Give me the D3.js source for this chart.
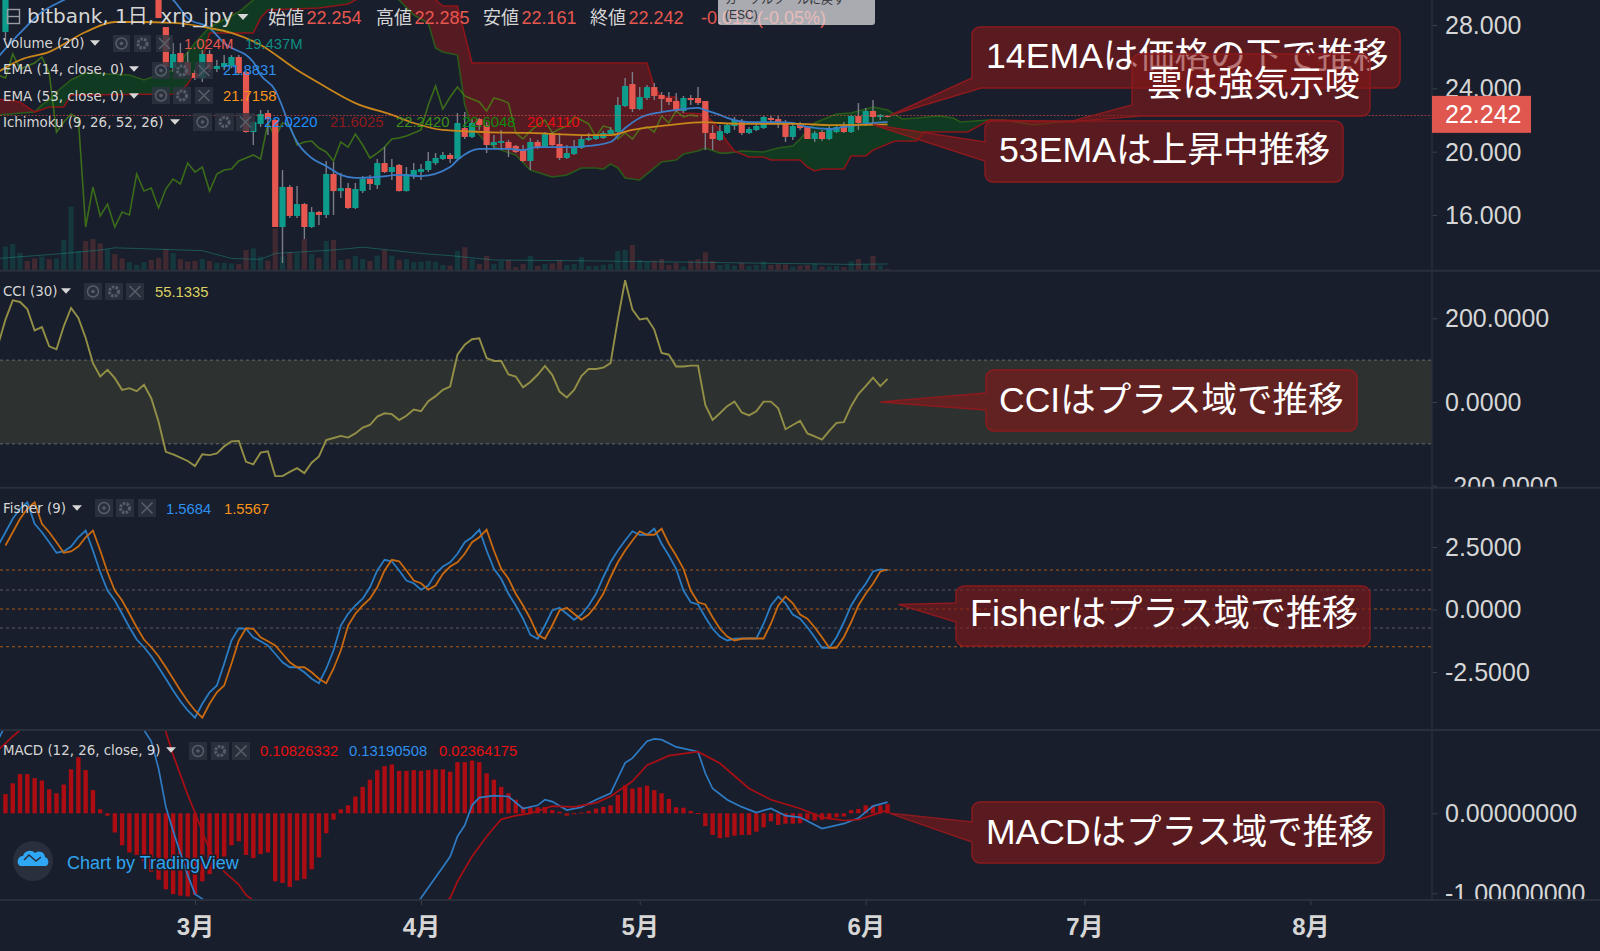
<!DOCTYPE html>
<html><head><meta charset="utf-8">
<script src="https://cdn.jsdelivr.net/npm/d3@7"></script>
<style>
html,body{margin:0;padding:0;background:#181e2b;overflow:hidden}
svg{display:block}
text{font-family:"Liberation Sans","Noto Sans CJK JP",sans-serif}
.lg{font-family:"DejaVu Sans","Noto Sans CJK JP",sans-serif}
</style></head><body>
<script>
// ---- day index: 0 = 1 March ----
const monthTicks=[0,31,61,92,122,153];
const monthLabels=["3月","4月","5月","6月","7月","8月"];
const priceTicks=[28,24,20,16];
const cciTicks=[200,0,-200];
const fisherTicks=[2.5,0,-2.5];
const macdTicks=[0,-1];

const candleDays=[-26,-5].concat(d3.range(-4,96));
const opens=[27.56,31.0,
27.87,25.28,26.23,25.66,24.97,24.65,26.17,25.22,25.35,25.41,
25.98,25.03,21.24,21.75,22.44,
22.0,15.24,17.77,15.94,16.69,15.24,16.19,16.0,18.59,17.51,
17.7,16.44,17.51,18.27,17.89,19.28,18.71,19.16,17.51,18.46,
18.71,18.84,19.28,19.54,19.79,19.54,21.49,20.93,22.06,21.68,
20.42,20.55,20.61,20.36,20.1,19.41,20.61,20.29,21.11,20.48,
19.6,19.85,20.23,20.74,20.8,20.86,21.11,21.24,22.88,24.27,
22.69,23.39,24.08,23.58,23.39,23.2,22.57,23.39,23.39,23.2,
21.18,20.74,21.18,21.62,21.94,21.18,21.37,21.49,22.13,22.06,
21.87,20.93,21.68,21.56,20.8,21.24,20.8,21.24,21.68,21.24,
22.25,21.81,22.57,22.19,22.254];
const highs=[31.5,31.5,
27.87,26.86,26.86,26.3,25.16,26.42,26.42,25.79,26.1,26.1,
26.1,25.1,21.9,22.63,22.63,
22.1,18.84,17.9,17.83,16.76,16.5,16.25,19.41,19.35,18.65,
18.02,18.02,18.46,18.53,19.54,20.29,19.54,19.22,19.03,19.28,
19.22,19.98,19.91,19.98,19.91,22.44,22.5,22.06,22.12,21.87,
21.05,21.37,20.74,20.42,20.42,20.86,20.74,21.24,21.24,21.18,
20.42,20.74,21.05,21.18,21.11,21.31,21.56,23.45,24.65,25.03,
24.08,24.21,24.34,23.77,23.77,23.71,23.52,23.58,24.08,23.2,
21.68,21.68,21.81,22.19,22.06,21.56,21.75,22.25,22.25,22.25,
22.0,21.87,21.87,21.62,21.3,21.37,21.62,21.68,21.87,22.31,
23.07,22.76,23.26,22.38,22.285];
const lows=[27.05,28.44,
25.35,25.03,25.47,24.84,24.53,24.4,25.03,25.03,25.16,25.28,
24.84,21.2,20.42,21.56,21.05,
15.24,12.97,15.81,15.81,14.48,15.18,15.37,15.81,16.0,17.07,
16.38,16.38,17.39,17.58,17.64,18.65,18.21,17.48,17.48,18.27,
18.21,18.71,19.16,19.47,19.28,19.5,20.8,20.86,21.37,19.91,
20.17,20.1,19.66,19.91,19.35,18.84,20.17,20.23,20.36,19.47,
19.54,19.79,20.17,20.67,20.74,20.8,21.05,21.18,22.82,22.5,
22.63,23.26,23.26,22.5,22.95,22.5,22.44,22.95,22.95,20.1,
20.1,20.67,21.11,21.37,21.05,21.11,21.3,21.43,21.81,21.49,
20.61,20.74,21.37,20.8,20.61,20.67,20.74,21.18,21.18,21.18,
21.37,21.62,21.81,22.0,22.161];
const closes=[31.0,28.44,
25.35,26.17,25.6,24.84,24.65,26.17,25.22,25.41,25.6,25.98,
24.97,21.24,21.87,22.38,22.06,
15.24,17.77,15.94,16.69,15.24,16.19,16.0,18.59,17.51,17.7,
16.44,17.64,18.27,17.96,19.28,18.71,19.03,17.51,18.59,18.84,
18.9,19.41,19.6,19.79,19.54,21.81,20.93,21.81,21.68,20.42,
20.61,20.67,20.23,19.98,19.41,20.61,20.29,21.11,20.42,19.6,
19.91,20.29,20.8,20.86,20.99,21.18,21.37,22.95,24.15,22.69,
23.45,24.08,23.52,23.33,23.14,22.57,23.39,23.26,23.07,21.18,
20.8,21.3,21.68,22.0,21.18,21.43,21.62,22.19,22.0,21.75,
20.93,21.62,21.49,20.8,21.18,20.8,21.43,21.56,21.24,22.25,
21.81,22.57,22.19,22.31,22.242];

const volumeDays=d3.range(-26,96);
const volumes=[75,83,55,29,37,43,35,37,96,203,61,93,99,85,66,51,37,25,16,25,32,39,67,55,35,27,
29,35,29,23,23,21,19,64,69,43,30,133,43,57,53,99,51,39,93,96,32,35,45,35,29,46,64,46,32,35,25,26,29,26,16,
14,61,73,35,19,45,19,29,32,9,19,45,13,19,21,32,16,19,41,13,13,17,19,61,64,80,32,27,30,35,16,23,11,30,35,57,
29,16,19,14,23,13,16,27,16,19,18,11,14,16,21,11,11,13,9,28,35,16,45,14,3];
const volumeUpBefore=[1,1,1,0,0,1,0,1,1,1,1,0,0,0,1,0,0,1,1,1,0,0]; // days -26 … -5
const volumeMaDays=[-27,-18,-13,-11,1,5,9,11,19,23,31,35,41,55,90,95];
const volumeMa=[37,53,64,71,62,37,34,53,64,73,53,46,32,29,18,19.4];

const ema14Days=[-27,-24,-21,-18,-12,-6,-3,-1,2,4,8,9,11,12,13,14,16,18,20,22,25,28,31,35,36,39,40,43,45,47,50,52,54,57,59,61,64,67,69,70,72,73,76,78,80,82,84,87,89,92,95];
const ema14=[25.98,27.5,28.82,29.58,30.84,30.2,29.58,28.44,27.81,26.86,25.66,24.84,23.89,22.82,21.56,20.61,19.6,19.09,18.53,18.34,18.4,18.53,18.46,19.03,19.47,20.17,20.17,20.17,20.1,20.29,20.29,20.29,20.36,20.61,21.49,22.13,22.5,22.69,22.76,22.63,22.32,22.13,21.87,21.87,21.87,21.81,21.56,21.43,21.56,21.75,21.88];
const ema53Days=[-27,-24,-20,-15,-11,-8,-3,2,5,9,14,17,22,27,30,34,40,46,53,57,60,65,70,72,76,83,87,95];
const ema53=[25.03,25.79,26.3,27.56,28.19,28.19,28.13,27.81,27.5,26.74,25.16,24.34,23.07,22.32,21.81,21.37,21.24,21.18,21.05,21.05,21.37,21.68,21.87,21.81,21.75,21.75,21.68,21.72];

const spanADays=[-27,-22,-21,-20,-19,-17,-15,-9,-7,-3,0,2,6,8,14,23,28,30,32,33,34,36,37,38,40,42,44,46,49,51,53,55,56,57,58,59,61,62,64,66,67,69,70,72,73,75,78,80,82,83,85,88,90,93,95,97,99,102,104,105,109,111,115,120,121];
const spanA=[22.32,22.5,22.95,23.26,23.77,24.53,24.97,24.84,24.53,25.16,26.86,27.87,28.82,29.58,31.47,31.16,29.58,28.63,28.13,26.55,26.3,26.1,22.95,21.56,20.55,20.1,19.79,18.84,18.4,18.53,18.97,18.97,18.9,19.22,18.97,18.34,18.21,18.59,19.35,19.47,19.85,20.04,20.23,19.91,19.91,20.04,19.98,20.23,20.36,20.8,21.81,22.38,22.44,22.82,22.63,22.06,22.13,22.25,22.13,21.87,22.0,22.0,21.68,21.94,21.87];
const spanBDays=[-27,-24,-22,-20,-18,-17,-3,-2,-1,1,2,8,9,10,17,21,22,25,31,33,34,36,38,62,63,64,66,67,70,72,73,74,76,78,79,83,84,85,86,89,90,92,93,96,99,100,106,109,111,121];
const spanB=[23.33,23.14,22.5,22.82,22.82,23.58,23.64,23.77,24.27,25.79,27.5,27.5,28.44,28.95,29.07,29.33,29.58,30.2,30.08,29.58,29.2,29.2,25.6,25.6,24.08,23.45,23.45,22.44,22.38,21.37,20.61,20.04,19.66,19.66,19.47,19.47,19.03,18.78,18.9,18.9,19.73,19.73,20.1,20.67,20.67,21.24,21.24,22.0,21.98,21.87];

const cciStart=-27;
const cci=[137,197,243,239,222,171,179,133,126,181,225,201,153,93,61,77,57,29,33,26,41,9,-47,-119,-125,-133,-141,-153,
-125,-127,-123,-106,-94,-93,-143,-149,-121,-118,-177,-177,-167,-158,-170,-145,-130,-91,-86,-81,-85,-75,-61,-55,-35,-27,-29,-43,-33,-18,-22,2,14,29,37,
113,137,150,152,105,98,98,66,61,35,48,65,86,65,25,11,29,62,79,79,82,93,197,291,221,197,200,173,117,113,85,85,87,87,
-7,-43,-27,-10,1,-25,-32,-22,1,1,-15,-65,-55,-45,-75,-82,-90,-69,-50,-48,-10,19,38,58,38,55.13];
const cciBand=[100,-100];

const fisherStart=-27;
const fisher=[2.56,3.09,3.63,4.03,4.29,3.43,3.09,2.69,2.27,2.32,2.52,2.89,3.16,2.36,1.49,.76,.36,-.17,-.71,-1.2,-1.51,-1.87,-2.31,-2.77,-3.24,-3.67,-4.04,-4.33,
-3.77,-3.31,-3.04,-2.17,-1.24,-.75,-.77,-1.11,-1.27,-1.44,-1.77,-2.11,-2.31,-2.31,-2.51,-2.77,-2.95,-2.37,-1.64,-.64,-.17,.16,.43,.89,1.56,1.99,1.93,1.56,1.16,1.05,.79,.96,1.43,1.72,1.89,
2.23,2.69,2.89,3.19,2.36,1.63,1.23,.63,.16,-.37,-1.01,-1.17,-.64,-.04,.07,-.17,-.41,-.2,.16,.63,1.29,1.89,2.36,2.76,3.13,2.99,2.99,3.23,2.63,2.16,1.63,.76,.29,.2,
-.31,-.77,-1.08,-1.24,-1.17,-1.16,-1.16,-1.16,-.57,.16,.52,.25,-.2,-.37,-.71,-1.11,-1.53,-1.53,-1.11,-.51,.16,.63,1.03,1.52,1.6,1.57];
const fisherLevels=[1.58,.78,.02,-.74,-1.49];
const fisherLevelOrange=[1.58,.02,-1.49];

const histStart=-26;
const macdHist=[.24,.375,.49,.49,.44,.41,.30,.25,.36,.55,.70,.54,.29,.05,-.03,-.24,-.40,-.49,-.52,-.60,-.73,-.83,-.95,-1.01,-1.03,-1.04,
-1.02,-.85,-.76,-.65,-.54,-.40,-.35,-.52,-.56,-.51,-.49,-.85,-.87,-.92,-.84,-.82,-.70,-.55,-.25,-.08,.05,.10,.21,.33,.42,.54,.59,.61,.53,.53,.54,.53,.54,.55,.55,.52,
.64,.64,.66,.64,.50,.42,.33,.25,.17,.08,.075,.075,.08,.04,.02,-.03,-.01,.01,.03,.06,.08,.10,.23,.35,.31,.325,.345,.29,.25,.18,.075,.07,.03,.004,
-.16,-.27,-.31,-.30,-.28,-.27,-.27,-.23,-.175,-.10,-.145,-.13,-.13,-.125,-.08,-.09,-.08,-.075,-.05,-.04,.04,.055,.10,.10,.10,.115];
const macdDays=[-27,-26,-20,-14,-8,-7,-6,-5,-4,-3,-2,-1,0,1,5,15,25,31,34,35,36,37,38,39,41,43,45,47,48,49,51,53,55,57,59,60,62,63,64,66,69,70,71,73,75,77,79,81,83,86,89,91,93,95];
const macdLine=[.92,1.1,1.5,1.9,1.2,1.04,.9,.56,.08,-.22,-.5,-.77,-1.01,-1.07,-1.5,-2.4,-1.8,-1.06,-.67,-.54,-.29,-.15,.10,.196,.22,.21,.06,.10,.17,.146,.04,.075,.17,.25,.63,.69,.90,.93,.92,.83,.77,.50,.31,.17,.08,.01,.06,-.03,-.05,-.19,-.13,-.06,.09,.14];
const signalDays=[-27,-26,-25,-24,-16,-8,-5,-4,-3,-2,-1,0,1,2,3,4,5,6,7,8,15,25,35,36,38,40,42,44,46,49,52,55,57,60,62,65,69,72,76,79,83,86,89,91,93,95];
const signalLine=[.79,.875,.96,1.04,1.6,1.35,1.2,1.02,.73,.48,.23,.01,-.23,-.46,-.6,-.73,-.81,-.89,-1.02,-1.09,-1.7,-1.6,-1.06,-.85,-.54,-.29,-.075,-.03,0,.09,.08,.13,.21,.40,.60,.72,.77,.625,.31,.17,.06,-.05,-.09,-.08,-.02,.04];

const lastPrice=22.242;
const W=1600,H=951,AX=1432,SEP=[270.7,487.7,730,900];
const bg="#181e2b",sepC="#2a2f3c",txt="#d6d6d6";
const up="#0d9c8c",dn="#e6574f";

const x=d3.scaleLinear().domain([-26.749,169.68]).range([0,AX]);
const yP=d3.scaleLinear().domain([29.58,12.48]).range([0,270.7]);
const yV=d3.scaleLinear().domain([0,320]).range([270,170]);
const yC=d3.scaleLinear().domain([200,-200]).range([318.3,485.7]);
const yF=d3.scaleLinear().domain([2.5,-2.5]).range([547,672]);
const yM=d3.scaleLinear().domain([0,-1]).range([813.3,893.3]);

const svg=d3.select("body").append("svg").attr("width",W).attr("height",H);
svg.append("rect").attr("width",W).attr("height",H).attr("fill",bg);
const defs=svg.append("defs");
function clip(id,y0,y1,w){defs.append("clipPath").attr("id",id).append("rect").attr("x",0).attr("y",y0).attr("width",w).attr("height",y1-y0);}
clip("cP",0,SEP[0],AX);clip("cC",SEP[0],SEP[1],AX);clip("cF",SEP[1],SEP[2],AX);clip("cM",SEP[2],SEP[3],AX);
clip("aC",SEP[0],SEP[1],W);clip("aM",SEP[2],SEP[3],W);clip("aT",0,SEP[0],W);clip("aF",SEP[1],SEP[2],W);

const lineOf=(xs,ys,yScale,curve)=>{const l=d3.line().x((_,i)=>x(xs[i])).y(d=>yScale(d));if(curve)l.curve(curve);return l(ys);};

// ---------- price pane ----------
const P=svg.append("g").attr("clip-path","url(#cP)");
// volume
const upByDay=new Map(candleDays.map((d,i)=>[d,closes[i]>=opens[i]]));
P.append("g").selectAll("rect").data(volumes).join("rect")
 .attr("x",(_,i)=>x(volumeDays[i])-2.6).attr("width",5.2)
 .attr("y",d=>yV(d)).attr("height",d=>yV(0)-yV(d))
 .attr("fill",(_,i)=>{const d=volumeDays[i];const u=d<-4?volumeUpBefore[i]:upByDay.get(d);return u?"rgba(10,160,140,.2)":"rgba(232,86,79,.2)";});
P.append("path").attr("d",lineOf(volumeMaDays,volumeMa,yV)).attr("fill","none").attr("stroke","rgba(30,140,130,.5)").attr("stroke-width",1);

// cloud: polygon between the spans, clipped to the region under each span
const aLine=lineOf(spanADays,spanA,yP), bLine=lineOf(spanBDays,spanB,yP);
const bRev=[...spanBDays.keys()].reverse();
const bBack=d3.line().x(i=>x(spanBDays[i])).y(i=>yP(spanB[i]))(bRev);
const between=aLine+"L"+bBack.slice(1)+"Z";
const below=(xs,l)=>l+`L${x(xs[xs.length-1])},${H}L${x(xs[0])},${H}Z`;
defs.append("clipPath").attr("id","underA").append("path").attr("d",below(spanADays,aLine));
defs.append("clipPath").attr("id","underB").append("path").attr("d",below(spanBDays,bLine));
P.append("g").attr("clip-path","url(#underA)").append("path").attr("d",between).attr("fill","#103a22");
P.append("g").attr("clip-path","url(#underB)").append("path").attr("d",between).attr("fill","#561a22");
P.append("path").attr("d",aLine).attr("fill","none").attr("stroke","#2a5a1a").attr("stroke-width",1.6);
P.append("path").attr("d",bLine).attr("fill","none").attr("stroke","#8e1519").attr("stroke-width",1.6);

// lagging line: closes moved 26 days back
const lagDays=candleDays.slice(1).map(d=>d-26), lagVals=closes.slice(1);
P.append("path").attr("d",lineOf(lagDays,lagVals,yP)).attr("fill","none").attr("stroke","#4a8a14").attr("stroke-opacity",.72).attr("stroke-width",1.6);

// candles
const C=P.append("g");
C.selectAll("line").data(candleDays).join("line")
 .attr("x1",d=>x(d)).attr("x2",d=>x(d))
 .attr("y1",(_,i)=>yP(highs[i])).attr("y2",(_,i)=>yP(lows[i]))
 .attr("stroke","#7b7e88").attr("stroke-width",1.4);
C.selectAll("rect").data(candleDays).join("rect")
 .attr("x",d=>x(d)-3.1).attr("width",6.2)
 .attr("y",(_,i)=>yP(Math.max(opens[i],closes[i])))
 .attr("height",(_,i)=>Math.max(1,Math.abs(yP(opens[i])-yP(closes[i]))))
 .attr("fill",(_,i)=>closes[i]>=opens[i]?up:dn);
// EMAs
P.append("path").attr("d",lineOf(ema14Days,ema14,yP,d3.curveMonotoneX)).attr("fill","none").attr("stroke","#3a7cc8").attr("stroke-width",1.8);
P.append("path").attr("d",lineOf(ema53Days,ema53,yP,d3.curveMonotoneX)).attr("fill","none").attr("stroke","#c9861b").attr("stroke-width",1.8);
// last price line
P.append("line").attr("x1",0).attr("x2",AX).attr("y1",yP(lastPrice)-.7).attr("y2",yP(lastPrice)-.7)
 .attr("stroke","rgba(230,87,79,.6)").attr("stroke-dasharray","2 1.5");

// ---------- CCI ----------
const CC=svg.append("g").attr("clip-path","url(#cC)");
CC.append("rect").attr("x",0).attr("width",AX).attr("y",yC(cciBand[0])).attr("height",yC(cciBand[1])-yC(cciBand[0])).attr("fill","#2d3230");
cciBand.forEach(v=>CC.append("line").attr("x1",0).attr("x2",AX).attr("y1",yC(v)).attr("y2",yC(v)).attr("stroke","#666a6c").attr("stroke-dasharray","3 3"));
CC.append("path").attr("d",lineOf(cci.map((_,i)=>cciStart+i),cci,yC)).attr("fill","none").attr("stroke","#938f47").attr("stroke-width",1.9);

// ---------- Fisher ----------
const FF=svg.append("g").attr("clip-path","url(#cF)");
fisherLevels.forEach(v=>FF.append("line").attr("x1",0).attr("x2",AX).attr("y1",yF(v)).attr("y2",yF(v))
 .attr("stroke",fisherLevelOrange.includes(v)?"#a8591a":"#565a62").attr("stroke-dasharray","3 3").attr("stroke-width",1.1));
const fDays=fisher.map((_,i)=>fisherStart+i);
FF.append("path").attr("d",lineOf(fDays,fisher,yF)).attr("fill","none").attr("stroke","#2a7cc4").attr("stroke-width",1.8);
FF.append("path").attr("d",lineOf(fDays.slice(1),fisher.slice(0,-1),yF)).attr("fill","none").attr("stroke","#c96a10").attr("stroke-width",1.8);

// ---------- MACD ----------
const MM=svg.append("g").attr("clip-path","url(#cM)");
MM.selectAll("rect").data(macdHist).join("rect")
 .attr("x",(_,i)=>x(histStart+i)-2.2).attr("width",4.4)
 .attr("y",d=>Math.min(yM(d),yM(0))).attr("height",d=>Math.max(1,Math.abs(yM(d)-yM(0))))
 .attr("fill","#ad0d12");
MM.append("path").attr("d",lineOf(macdDays,macdLine,yM)).attr("fill","none").attr("stroke","#2e7bc4").attr("stroke-width",1.7);
MM.append("path").attr("d",lineOf(signalDays,signalLine,yM)).attr("fill","none").attr("stroke","#a90f14").attr("stroke-width",1.7);

// ---------- axes ----------
function rightAxis(scale,vals,fmt,clipId,dy){
  const g=svg.append("g").attr("clip-path",`url(#${clipId})`).append("g").attr("transform",`translate(${AX},0)`)
   .call(d3.axisRight(scale).tickValues(vals).tickFormat(fmt).tickSize(5).tickPadding(8));
  g.select(".domain").remove();
  g.selectAll("line").attr("stroke","#3a404d");
  g.selectAll("text").attr("fill",txt).attr("font-size",25).attr("font-family",'"Liberation Sans",sans-serif').attr("y",dy||0);
}
rightAxis(yP,priceTicks,d3.format(".3f"),"aT",0.5);
rightAxis(yC,cciTicks,d=>d3.format(".4f")(d).replace("−","-"),"aC",0.5);
rightAxis(yF,fisherTicks,d=>d3.format(".4f")(d).replace("−","-"),"aF",0);
rightAxis(yM,macdTicks,d=>d3.format(".8f")(d).replace("−","-"),"aM",0.5);

const tA=svg.append("g").attr("transform",`translate(0,${SEP[3]})`)
 .call(d3.axisBottom(x).tickValues(monthTicks).tickFormat((_,i)=>monthLabels[i]).tickSize(5).tickPadding(13));
tA.select(".domain").remove();
tA.selectAll("line").attr("stroke","#3a404d");
tA.selectAll("text").attr("fill",txt).attr("font-size",24).attr("font-weight",700)
 .attr("font-family",'"Liberation Sans","Noto Sans CJK JP",sans-serif');

// separators
SEP.forEach(y=>svg.append("line").attr("x1",0).attr("x2",W).attr("y1",y).attr("y2",y).attr("stroke",sepC).attr("stroke-width",2));
svg.append("line").attr("x1",AX).attr("x2",AX).attr("y1",0).attr("y2",SEP[3]).attr("stroke",sepC).attr("stroke-width",1.5);

// last price label
const yl=yP(lastPrice)-0.8;
svg.append("rect").attr("x",AX).attr("y",yl-19.5).attr("width",99).attr("height",37).attr("fill","#df574e");
svg.append("text").attr("x",AX+13).attr("y",yl+7.5).attr("fill","#fff").attr("font-size",25).text("22.242");

// ---------- legends ----------
const L=svg.append("g");
function T(x0,y,s,c,size,cls){return L.append("text").attr("x",x0).attr("y",y).attr("fill",c).attr("font-size",size).attr("class",cls||null).text(s);}
function tri(x0,y,s){L.append("path").attr("d",`M${x0-s},${y-s*.55}L${x0+s},${y-s*.55}L${x0},${y+s*.55}Z`).attr("fill",txt);}
function icons(xs,y,h,w){
  xs.forEach((x0,i)=>{
    L.append("rect").attr("x",x0).attr("y",y).attr("width",w).attr("height",h).attr("fill","#2e3441").attr("fill-opacity",.8);
    const cx=x0+w/2,cy=y+h/2,c="#565d6b";
    if(i==0){L.append("circle").attr("cx",cx).attr("cy",cy).attr("r",5.5).attr("fill","none").attr("stroke",c).attr("stroke-width",1.5);
             L.append("circle").attr("cx",cx).attr("cy",cy).attr("r",1.8).attr("fill",c);}
    if(i==1){L.append("circle").attr("cx",cx).attr("cy",cy).attr("r",4.5).attr("fill","none").attr("stroke",c).attr("stroke-width",3).attr("stroke-dasharray","2.5 1.2");}
    if(i==2){L.append("path").attr("d",`M${cx-5.5},${cy-5.5}L${cx+5.5},${cy+5.5}M${cx+5.5},${cy-5.5}L${cx-5.5},${cy+5.5}`).attr("stroke",c).attr("stroke-width",1.6);}
  });
}
const lab=13.4, val=14.8;
// header
L.append("rect").attr("x",7.5).attr("y",9.5).attr("width",12).attr("height",14).attr("fill","none").attr("stroke","#9a9ca3").attr("stroke-width",1.4);
L.append("line").attr("x1",7.5).attr("x2",19.5).attr("y1",16.5).attr("y2",16.5).attr("stroke","#9a9ca3").attr("stroke-width",1.4);
T(27,23,"bitbank, 1日, xrp_jpy",txt,20,"lg");
tri(243,17,5.5);
const ohlcLabels=["始値","高値","安値","終値"], ohlcVals=["22.254","22.285","22.161","22.242"], ohlcX=[268,376,483,590];
ohlcLabels.forEach((s,i)=>{T(ohlcX[i],24,s,txt,18);T(ohlcX[i]+38.5,24,ohlcVals[i],dn,18);});
T(701,24,"-0.012 (-0.05%)",dn,18);
// tooltip box
svg.append("rect").attr("x",718).attr("y",-6).attr("width",157).attr("height",31).attr("rx",3).attr("fill","#e7e7ea").attr("fill-opacity",.7);
svg.append("text").attr("x",725).attr("y",4).attr("font-size",12).attr("fill","#35383f").text("カーソルツールに戻す");
svg.append("text").attr("x",725).attr("y",19).attr("font-size",12).attr("fill","#35383f").text("(ESC)");

icons([113,134,156],35,17,17);
T(3,48,"Volume (20)",txt,lab,"lg");tri(95,43,5);
T(184,49,"1.024M",dn,val);T(245,49,"19.437M","#0d8f85",val);
icons([152,173,195],62,17,18);
T(3,74,"EMA (14, close, 0)",txt,lab,"lg");tri(134,69,5);
T(223,75,"21.8831","#2e90f0",val);
icons([152,173,195],87,17,18);
T(3,101,"EMA (53, close, 0)",txt,lab,"lg");tri(134,96,5);
T(223,101,"21.7158","#f7931a",val);
icons([193,215,236],113,18,19);
T(3,127,"Ichimoku (9, 26, 52, 26)",txt,lab,"lg");tri(175,122,5);
T(264,127,"22.0220","#1e90ff",val);T(330,127,"21.6025","#8f1a1a",val);T(396,127,"22.2420","#3f8f1a",val);T(462,127,"22.6048","#0c8a0c",val);T(527,127,"20.4110","#e81010",val);
icons([84,105,126],283,17,18);
T(3,296,"CCI (30)",txt,lab,"lg");tri(66,291,5);
T(155,297,"55.1335","#dcd060",val);
icons([95,116,138],499,18,18);
T(3,513,"Fisher (9)",txt,lab,"lg");tri(77,508,5);
T(166,514,"1.5684","#2e90f0",val);T(224,514,"1.5567","#f7931a",val);
icons([189,211,232],742,18,18);
T(3,755,"MACD (12, 26, close, 9)",txt,lab,"lg");tri(171,750,5);
T(260,756,"0.10826332","#e81010",val);T(349,756,"0.13190508","#2e90f0",val);T(439,756,"0.02364175","#e81010",val);

// logo
L.append("circle").attr("cx",33).attr("cy",861).attr("r",20).attr("fill","#2a2f3d");
L.append("path").attr("d","M20,866 a5.5,5.5 0 0 1 3,-10 a7,7 0 0 1 12,-3 a6,6 0 0 1 10,4 a5,5 0 0 1 1,9 Z").attr("fill","#2ea8f5");
L.append("path").attr("d","M24,860 L29,855 L36,861 L41,857").attr("fill","none").attr("stroke","#2a2f3d").attr("stroke-width",1.6);
L.append("text").attr("x",67).attr("y",869).attr("font-size",18).attr("fill","#2fa5f0").attr("stroke","#181e2b").attr("stroke-width",3).attr("paint-order","stroke").text("Chart by TradingView");

// ---------- callouts ----------
const calloutTexts=["14EMAは価格の下で推移","雲は強気示唆","53EMAは上昇中推移","CCIはプラス域で推移","Fisherはプラス域で推移","MACDはプラス域で推移"];
const calloutSizes=[35.7,35.5,35.7,35.5,36.1,35.5];
const callouts=[
 {x:972,y:27,w:428,h:61,tip:[x(95.4),yP(22.3)],b:[[981,88],[972,78]],corner:true,tx:986,ty:68},
 {x:1132,y:54,w:238,h:62,tip:[x(120),yP(21.9)],b:[[1142,116],[1132,105]],corner:true,tx:1147,ty:96},
 {x:985,y:121,w:358,h:61,tip:[x(93),yP(21.7)],b:[[985,161],[985,142]],tx:999,ty:162},
 {x:986,y:370,w:371,h:61,tip:[x(94),yC(0)],b:[[986,410],[986,393]],tx:999,ty:412},
 {x:956,y:586,w:414,h:60,tip:[x(96.5),yF(.2)],b:[[956,622],[956,603]],tx:970,ty:626},
 {x:972,y:802,w:412,h:61,tip:[x(95.3),yM(0)],b:[[972,842],[972,822]],tx:986,ty:844}
];
const A=svg.append("g");
callouts.forEach((c,i)=>{
  const r=8,{x:X,y:Y,w,h}=c;
  let p=`M${X+r},${Y}H${X+w-r}A${r},${r} 0 0 1 ${X+w},${Y+r}V${Y+h-r}A${r},${r} 0 0 1 ${X+w-r},${Y+h}`;
  if(c.corner){p+=`H${c.b[0][0]}L${c.tip[0]},${c.tip[1]}L${c.b[1][0]},${c.b[1][1]}`;}
  else{p+=`H${X+r}A${r},${r} 0 0 1 ${X},${Y+h-r}V${c.b[0][1]}L${c.tip[0]},${c.tip[1]}L${c.b[1][0]},${c.b[1][1]}`;}
  p+=`V${Y+r}A${r},${r} 0 0 1 ${X+r},${Y}Z`;
  A.append("path").attr("d",p).attr("fill","rgba(134,23,25,.6)").attr("stroke","#8d1a1e").attr("stroke-width",1.4);
  A.append("text").attr("x",c.tx).attr("y",c.ty).attr("fill","#fff").attr("font-size",calloutSizes[i]).text(calloutTexts[i]);
});
</script>
</body></html>
